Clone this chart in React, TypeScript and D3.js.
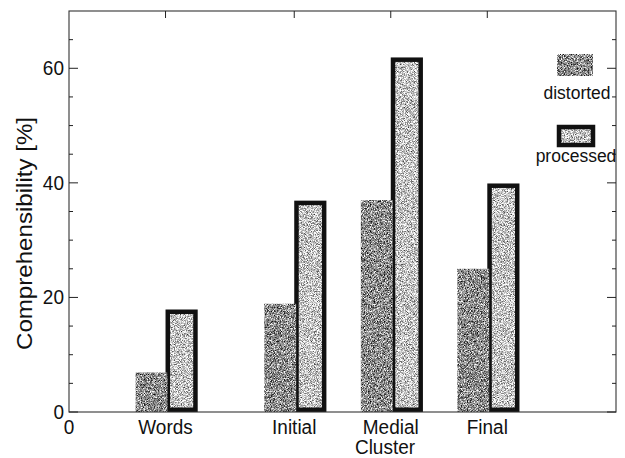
import React from "react";
import * as d3 from "d3";

const categories = ["Words", "Initial", "Medial", "Final"];
const categoryPositions = [3, 7, 10, 13];
const distorted = [6.9, 18.9, 37, 25];
const processed = [17.5, 36.5, 61.5, 39.5];
const yMajorTicks = [0, 20, 40, 60];
const yMinorTicks = [5, 10, 15, 25, 30, 35, 45, 50, 55, 65];
const seriesNames = ["distorted", "processed"];

const W = 625;
const H = 458;
const M = { left: 69, right: 616, top: 11, bottom: 412 };
const FONT = "'Liberation Sans', Arial, Helvetica, sans-serif";
const FS = 19;
const SY = 1.08;

function Label(props: { x: number; y: number; anchor?: string; size?: number; children: React.ReactNode }) {
  const { x, y, anchor = "middle", size = FS, children } = props;
  return (
    <text
      transform={`translate(${x},${y}) scale(1,${SY})`}
      textAnchor={anchor}
      fontSize={size}
      fill="#111"
    >
      {children}
    </text>
  );
}

export default function App() {
  const x = d3.scaleLinear().domain([0, 17]).range([M.left, M.right]);
  const y = d3.scaleLinear().domain([0, 70]).range([M.bottom, M.top]);
  const sw = 4.5;

  return (
    <svg
      width={W}
      height={H}
      style={{ position: "absolute", left: 0, top: 0, background: "#fff" }}
      fontFamily={FONT}
    >
      <defs>
        <filter id="texDark" colorInterpolationFilters="sRGB">
          <feTurbulence type="fractalNoise" baseFrequency="1.3" numOctaves="1" seed="3" result="n" />
          <feColorMatrix
            in="n"
            type="matrix"
            values="2.0 0 0 0 -0.45  2.0 0 0 0 -0.45  2.0 0 0 0 -0.45  0 0 0 0 1"
            result="g"
          />
          <feComposite in="g" in2="SourceGraphic" operator="in" />
        </filter>
        <filter id="texLight" colorInterpolationFilters="sRGB">
          <feTurbulence type="fractalNoise" baseFrequency="1.3" numOctaves="1" seed="7" result="n" />
          <feColorMatrix
            in="n"
            type="matrix"
            values="1.9 0 0 0 -0.18  1.9 0 0 0 -0.18  1.9 0 0 0 -0.18  0 0 0 0 1"
            result="g"
          />
          <feComposite in="g" in2="SourceGraphic" operator="in" />
        </filter>
      </defs>

      {/* processed bars */}
      {categories.map((c, i) => {
        const x0 = x(categoryPositions[i]) + sw / 2;
        const x1 = x(categoryPositions[i] + 1) - sw / 2;
        const yt = y(processed[i]);
        const yb = y(0) - sw / 2;
        return (
          <g key={"p" + c}>
            <rect x={x0} y={yt} width={x1 - x0} height={yb - yt} fill="#bbb" filter="url(#texLight)" />
            <rect x={x0} y={yt} width={x1 - x0} height={yb - yt} fill="none" stroke="#111" strokeWidth={sw} />
          </g>
        );
      })}
      {/* distorted bars */}
      {categories.map((c, i) => {
        const x0 = x(categoryPositions[i] - 0.93);
        const x1 = x(categoryPositions[i] + 0.06);
        const yt = y(distorted[i]);
        return (
          <rect
            key={"d" + c}
            x={x0}
            y={yt}
            width={x1 - x0}
            height={y(0) - yt}
            fill="#888"
            filter="url(#texDark)"
          />
        );
      })}

      {/* frame */}
      <rect
        x={M.left}
        y={M.top}
        width={M.right - M.left}
        height={M.bottom - M.top}
        fill="none"
        stroke="#333"
        strokeWidth={1.1}
      />
      {/* left / right ticks */}
      {yMajorTicks.map((t) => (
        <g key={"ym" + t}>
          <line x1={M.left} x2={M.left + 9} y1={y(t)} y2={y(t)} stroke="#222" strokeWidth={1} />
          <line x1={M.right} x2={M.right - 9} y1={y(t)} y2={y(t)} stroke="#222" strokeWidth={1} />
          <Label x={M.left - 5} y={y(t) + 7} anchor="end">
            {t}
          </Label>
        </g>
      ))}
      {yMinorTicks.map((t) => (
        <g key={"yn" + t}>
          <line x1={M.left} x2={M.left + 4} y1={y(t)} y2={y(t)} stroke="#222" strokeWidth={1} />
          <line x1={M.right} x2={M.right - 4} y1={y(t)} y2={y(t)} stroke="#222" strokeWidth={1} />
        </g>
      ))}
      {/* top ticks and x labels */}
      {categories.map((c, i) => (
        <g key={"x" + c}>
          <line
            x1={x(categoryPositions[i])}
            x2={x(categoryPositions[i])}
            y1={M.top}
            y2={M.top + 7}
            stroke="#222"
            strokeWidth={1}
          />
          <Label x={x(categoryPositions[i])} y={433.5}>
            {c}
          </Label>
        </g>
      ))}
      <Label x={x(0)} y={433.5}>
        0
      </Label>

      {/* axis titles */}
      <Label x={385} y={454}>
        Cluster
      </Label>
      <text
        transform={`translate(32,233.5) rotate(-90)`}
        textAnchor="middle"
        fontSize={22}
        textLength={233}
        lengthAdjust="spacingAndGlyphs"
        fill="#111"
      >
        Comprehensibility [%]
      </text>

      {/* legend */}
      <rect x={557} y={54} width={36} height={22} fill="#888" filter="url(#texDark)" />
      <Label x={577} y={99} size={17.5}>
        {seriesNames[0]}
      </Label>
      <rect x={559} y={127} width={34} height={18} fill="#bbb" filter="url(#texLight)" />
      <rect x={559} y={127} width={34} height={18} fill="none" stroke="#111" strokeWidth={sw} />
      <Label x={576} y={162} size={17.5}>
        {seriesNames[1]}
      </Label>
    </svg>
  );
}
